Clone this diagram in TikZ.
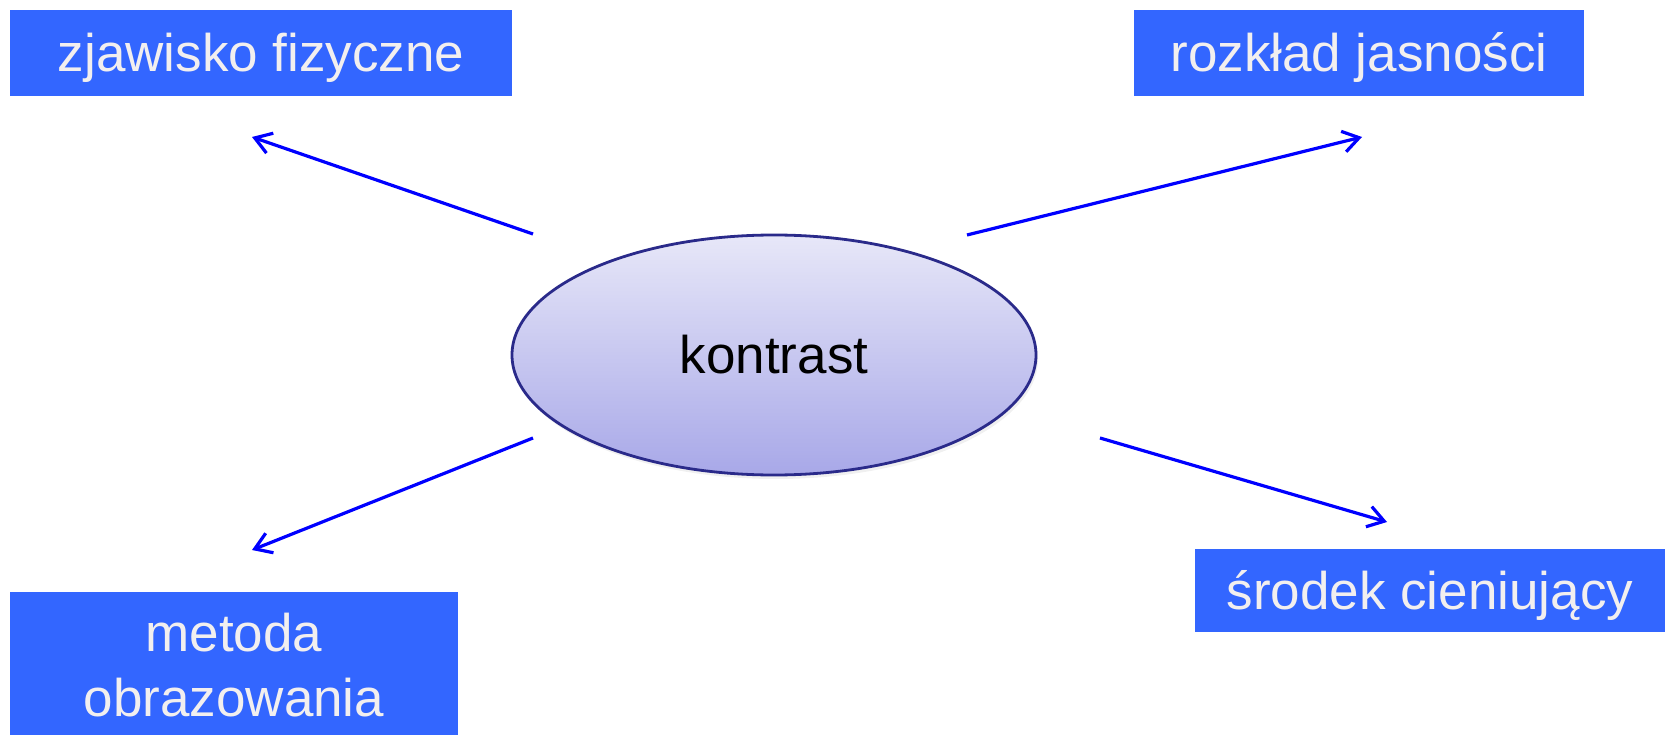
\documentclass[tikz,border=0pt]{standalone}
\usepackage{fontspec}
\setmainfont{Liberation Sans}
\usetikzlibrary{arrows.meta,shapes.geometric,shadows}
\definecolor{boxblue}{HTML}{3366FF}
\definecolor{boxtext}{HTML}{F2EFEF}
\definecolor{arrowblue}{HTML}{0000FF}
\definecolor{elltop}{HTML}{E7E7F8}
\definecolor{ellbot}{HTML}{A8A8E8}
\definecolor{ellline}{HTML}{2A2A8A}
\tikzset{
  bigfont/.style={font=\fontsize{53}{65}\selectfont},
  bluebox/.style={fill=boxblue, text=boxtext, inner sep=0pt, bigfont, align=center,
                  text height=40pt, text depth=2pt},
  conn/.style={draw=arrowblue, line width=3.2pt,
               -{Straight Barb[length=16pt,width=21pt,line width=3.2pt]}},
}
\begin{document}
\begin{tikzpicture}[x=1pt,y=-1pt]
\useasboundingbox (0,0) rectangle (1665,735);
% boxes
\node[bluebox, minimum width=502pt, minimum height=86pt] (zf) at (261,53) {zjawisko fizyczne};
\node[bluebox, minimum width=450pt, minimum height=86pt] (rj) at (1359,53) {rozkład jasności};
\node[bluebox, minimum width=470pt, minimum height=83pt] (sc) at (1430,590.5) {środek cieniujący};
\node[bluebox, minimum width=448pt, minimum height=143pt, text height=107pt, text depth=1pt] (mo) at (234,663.5) {metoda\\obrazowania};
% ellipse
\node[ellipse, draw=ellline, line width=2.8pt, top color=elltop, bottom color=ellbot,
      drop shadow={opacity=0.12, shadow xshift=2pt, shadow yshift=-4pt},
      minimum width=524pt, minimum height=240pt, inner sep=0pt,
      bigfont, text height=38pt, text depth=2pt] (k) at (774,355) {kontrast};
% connector end points
\coordinate (a1) at (533,234);
\coordinate (b1) at (252,137);
\coordinate (a2) at (967,235);
\coordinate (b2) at (1362,137);
\coordinate (a3) at (533,438);
\coordinate (b3) at (252,550);
\coordinate (a4) at (1100,438);
\coordinate (b4) at (1387,522);
\draw[conn] (a1) -- (b1);
\draw[conn] (a2) -- (b2);
\draw[conn] (a3) -- (b3);
\draw[conn] (a4) -- (b4);
\end{tikzpicture}
\end{document}
